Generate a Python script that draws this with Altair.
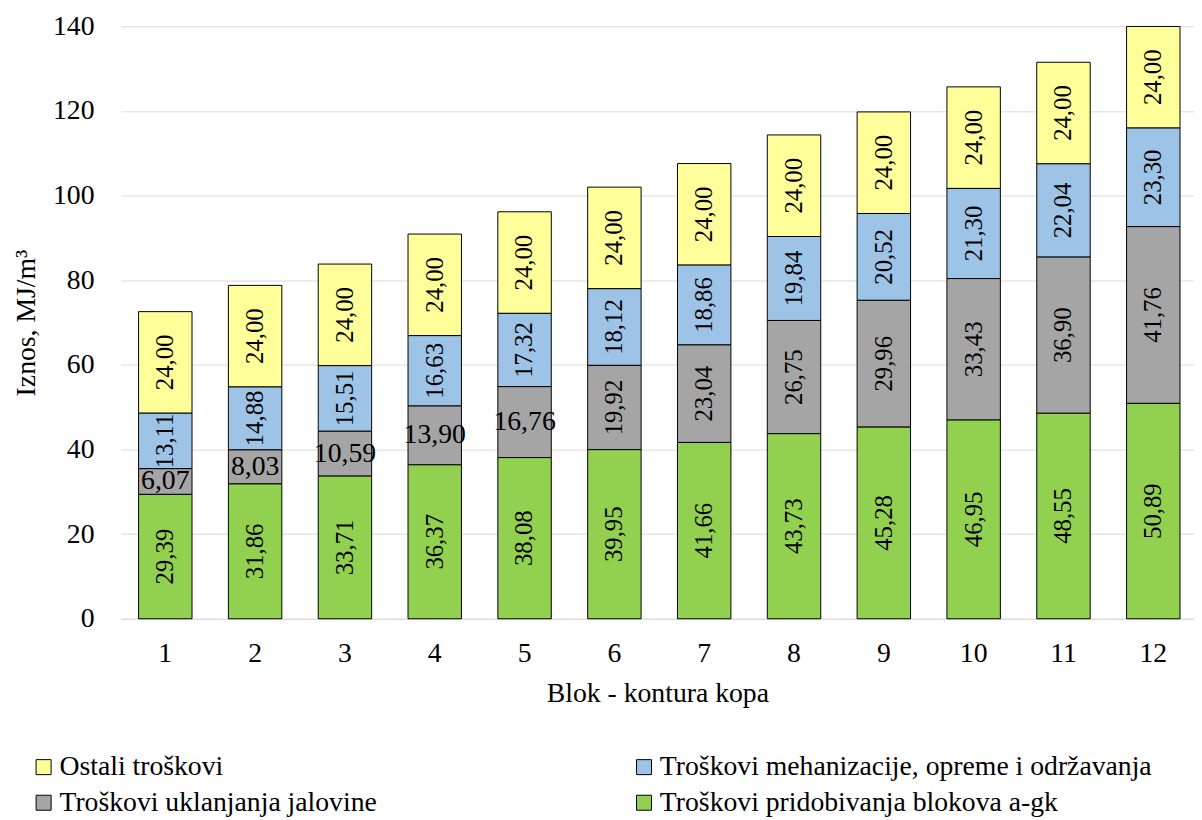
import altair as alt
import pandas as pd

blocks = [str(i) for i in range(1, 13)]
series = ["Ostali troškovi", "Troškovi mehanizacije, opreme i održavanja",
          "Troškovi uklanjanja jalovine", "Troškovi pridobivanja blokova a-gk"]
ostali = [24.00] * 12
mehanizacija = [13.11, 14.88, 15.51, 16.63, 17.32, 18.12, 18.86, 19.84, 20.52, 21.30, 22.04, 23.30]
jalovina = [6.07, 8.03, 10.59, 13.90, 16.76, 19.92, 23.04, 26.75, 29.96, 33.43, 36.90, 41.76]
pridobivanje = [29.39, 31.86, 33.71, 36.37, 38.08, 39.95, 41.66, 43.73, 45.28, 46.95, 48.55, 50.89]
colors = ["#FFFF99", "#9DC3E6", "#A5A5A5", "#92D050"]

values = [ostali, mehanizacija, jalovina, pridobivanje]
rows = []
for si, (s, vals) in enumerate(zip(series, values)):
    for bi, (b, v) in enumerate(zip(blocks, vals)):
        rows.append({"blok": b, "bi": bi + 1, "serija": s, "ord": 3 - si, "si": si,
                     "v": v, "lab": f"{v:.2f}".replace(".", ",")})
df = pd.DataFrame(rows)

FONT = "Liberation Serif"
FS = 28

base = alt.Chart(df).transform_stack(
    stack="v", groupby=["blok"], as_=["y0", "y1"], sort=[alt.SortField("ord", order="ascending")]
).transform_calculate(ym="(datum.y0 + datum.y1) / 2")

xenc = alt.X("blok:N", sort=blocks,
             scale=alt.Scale(paddingInner=0.405, paddingOuter=0.177, align=0.56),
             axis=alt.Axis(title="Blok - kontura kopa", labelAngle=0, labelFont=FONT, labelFontSize=FS,
                           titleFont=FONT, titleFontSize=FS, titleFontWeight="normal", labelColor="black",
                           titleColor="black", domainColor="#D9D9D9", ticks=False, labelPadding=21,
                           titlePadding=13))

bars = base.mark_bar(stroke="black", strokeWidth=1).encode(
    x=xenc,
    y=alt.Y("y0:Q", scale=alt.Scale(domain=[0, 140]),
            axis=alt.Axis(title="Iznos, MJ/m³", values=list(range(0, 141, 20)), labelFont=FONT,
                          labelFontSize=FS, titleFont=FONT, titleFontSize=FS, titleFontWeight="normal",
                          labelColor="black", titleColor="black", gridColor="#D9D9D9", domain=False,
                          ticks=False, labelPadding=27, titlePadding=12)),
    y2="y1:Q",
    color=alt.Color("serija:N", scale=alt.Scale(domain=series, range=colors), sort=series,
                    legend=alt.Legend(title=None, orient="none", legendX=-92, legendY=735,
                                      direction="horizontal", columns=2, symbolType="square",
                                      symbolSize=230, symbolStrokeColor="black", symbolStrokeWidth=1,
                                      symbolOffset=0, labelOffset=2,
                                      labelFont=FONT, labelFontSize=FS, labelColor="black",
                                      labelLimit=700, columnPadding=256, rowPadding=8)),
)

vert = base.transform_filter("!(datum.si == 2 && datum.bi <= 5)").mark_text(
    angle=270, font=FONT, fontSize=25, color="black").encode(
    x=alt.X("blok:N", sort=blocks), y=alt.Y("ym:Q"), text="lab:N")

horiz = base.transform_filter("datum.si == 2 && datum.bi <= 5").mark_text(
    angle=0, font=FONT, fontSize=FS, color="black").encode(
    x=alt.X("blok:N", sort=blocks), y=alt.Y("ym:Q"), text="lab:N")

chart = alt.layer(bars, vert, horiz).properties(
    width=1085, height=599, padding={"left": 5, "top": 0, "right": 0, "bottom": 0}
).configure_view(stroke=None)

chart.save("out.html", embed_options={"renderer": "svg", "actions": False})
